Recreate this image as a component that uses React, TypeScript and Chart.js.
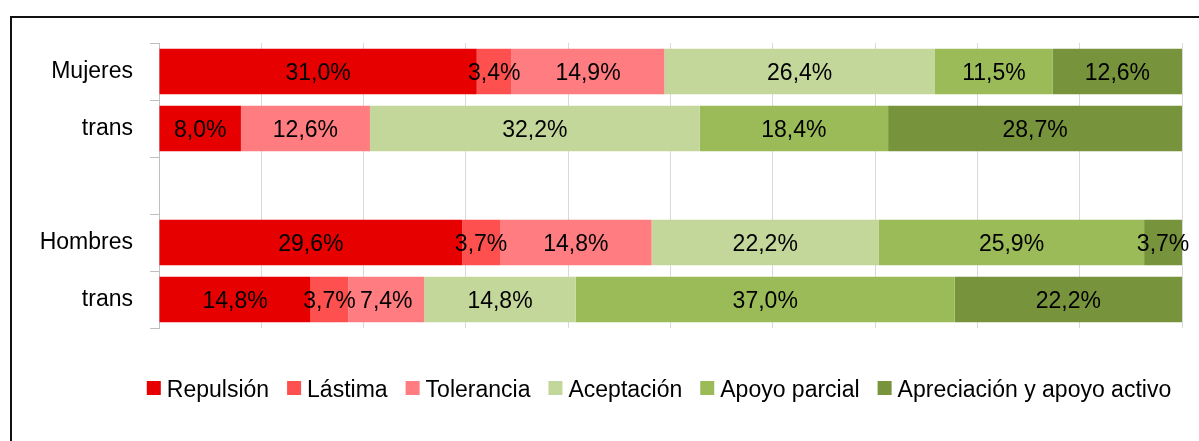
import React, { useEffect, useRef } from "react";
import { Chart, registerables } from "chart.js";

Chart.register(...registerables);

const categories = ["Mujeres", "trans", "", "Hombres", "trans"];

const repulsion = [31.0, 8.0, null, 29.6, 14.8];
const lastima = [3.4, 0, null, 3.7, 3.7];
const tolerancia = [14.9, 12.6, null, 14.8, 7.4];
const aceptacion = [26.4, 32.2, null, 22.2, 14.8];
const apoyoParcial = [11.5, 18.4, null, 25.9, 37.0];
const apreciacion = [12.6, 28.7, null, 3.7, 22.2];

const seriesNames = [
  "Repulsión",
  "Lástima",
  "Tolerancia",
  "Aceptación",
  "Apoyo parcial",
  "Apreciación y apoyo activo",
];
const seriesValues = [repulsion, lastima, tolerancia, aceptacion, apoyoParcial, apreciacion];
const seriesColors = ["#E60000", "#FF5050", "#FF7C80", "#C4D79B", "#9BBB59", "#77933C"];

const FONT = '"Liberation Sans", Arial, sans-serif';
const FONT_SIZE = 23;

// 100% stacked: normalise each row to its own total (as the spreadsheet does)
const rowTotals = categories.map((_, i) =>
  seriesValues.reduce((s, arr) => s + (arr[i] ?? 0), 0)
);

const fmt = (v: number) => v.toFixed(1).replace(".", ",") + "%";

const segLabels = {
  id: "segLabels",
  afterDatasetsDraw(chart: any) {
    const ctx = chart.ctx;
    ctx.save();
    ctx.font = `${FONT_SIZE}px ${FONT}`;
    ctx.fillStyle = "#000";
    ctx.textAlign = "center";
    ctx.textBaseline = "alphabetic";
    chart.data.datasets.forEach((ds: any, di: number) => {
      const meta = chart.getDatasetMeta(di);
      meta.data.forEach((el: any, i: number) => {
        const raw = ds.rawValues[i];
        if (raw == null || raw === 0) return;
        const p = el.getCenterPoint();
        ctx.fillText(fmt(raw), p.x, p.y + 8.5);
      });
    });
    ctx.restore();
  },
};

const bottomLegend = {
  id: "bottomLegend",
  afterDraw(chart: any) {
    const ctx = chart.ctx;
    ctx.save();
    ctx.font = `${FONT_SIZE}px ${FONT}`;
    const box = 14;
    const gapText = 6;
    const gapItem = 18;
    const items = chart.data.datasets.map((ds: any) => ({
      label: ds.label,
      color: ds.backgroundColor,
      w: ctx.measureText(ds.label).width,
    }));
    const total =
      items.reduce((s: number, it: any) => s + box + gapText + it.w, 0) +
      gapItem * (items.length - 1);
    let x = 659 - total / 2;
    const cy = 388;
    ctx.textBaseline = "alphabetic";
    ctx.textAlign = "left";
    items.forEach((it: any) => {
      ctx.fillStyle = it.color;
      ctx.fillRect(x, cy - box / 2, box, box);
      x += box + gapText;
      ctx.fillStyle = "#000";
      ctx.fillText(it.label, x, cy + 9);
      x += it.w + gapItem;
    });
    ctx.restore();
  },
};

export default function App() {
  const canvasRef = useRef<HTMLCanvasElement | null>(null);

  useEffect(() => {
    if (!canvasRef.current) return;
    const chart = new Chart(canvasRef.current, {
      type: "bar",
      data: {
        labels: categories,
        datasets: seriesNames.map((name, si) => ({
          label: name,
          data: seriesValues[si].map((v, i) =>
            v == null ? null : (v / rowTotals[i]) * 100
          ),
          rawValues: seriesValues[si],
          backgroundColor: seriesColors[si],
          borderWidth: 0,
          barPercentage: 0.8,
          categoryPercentage: 1.0,
        })) as any,
      },
      options: {
        indexAxis: "y",
        responsive: false,
        animation: false,
        layout: { padding: { left: 0, right: 17, top: 43, bottom: 113 } },
        plugins: {
          legend: { display: false },
          tooltip: { enabled: false },
          title: { display: false },
        },
        scales: {
          x: {
            stacked: true,
            min: 0,
            max: 100,
            ticks: { display: false, stepSize: 10 },
            grid: { color: "#D9D9D9", drawTicks: false, lineWidth: 1 },
            border: { display: false },
            afterFit: (s: any) => {
              s.height = 0;
            },
          },
          y: {
            stacked: true,
            grid: {
              drawOnChartArea: false,
              drawTicks: true,
              tickLength: 9,
              color: "#BFBFBF",
              offset: true,
            },
            border: { display: true, color: "#BFBFBF", width: 1 },
            ticks: {
              color: "#000",
              font: { size: FONT_SIZE, family: FONT },
              padding: 17,
              autoSkip: false,
            },
            afterFit: (s: any) => {
              s.width = 159;
            },
          },
        },
      } as any,
      plugins: [segLabels, bottomLegend],
    });
    return () => chart.destroy();
  }, []);

  return (
    <div
      style={{
        position: "fixed",
        left: 0,
        top: 0,
        width: 1199,
        height: 441,
        overflow: "hidden",
        background: "#fff",
      }}
    >
      <div
        style={{
          position: "absolute",
          left: 10,
          top: 16,
          width: 1400,
          height: 600,
          border: "2px solid #111",
          boxSizing: "border-box",
        }}
      />
      <canvas
        ref={canvasRef}
        width={1199}
        height={441}
        style={{ position: "absolute", left: 0, top: 0, width: 1199, height: 441 }}
      />
    </div>
  );
}
